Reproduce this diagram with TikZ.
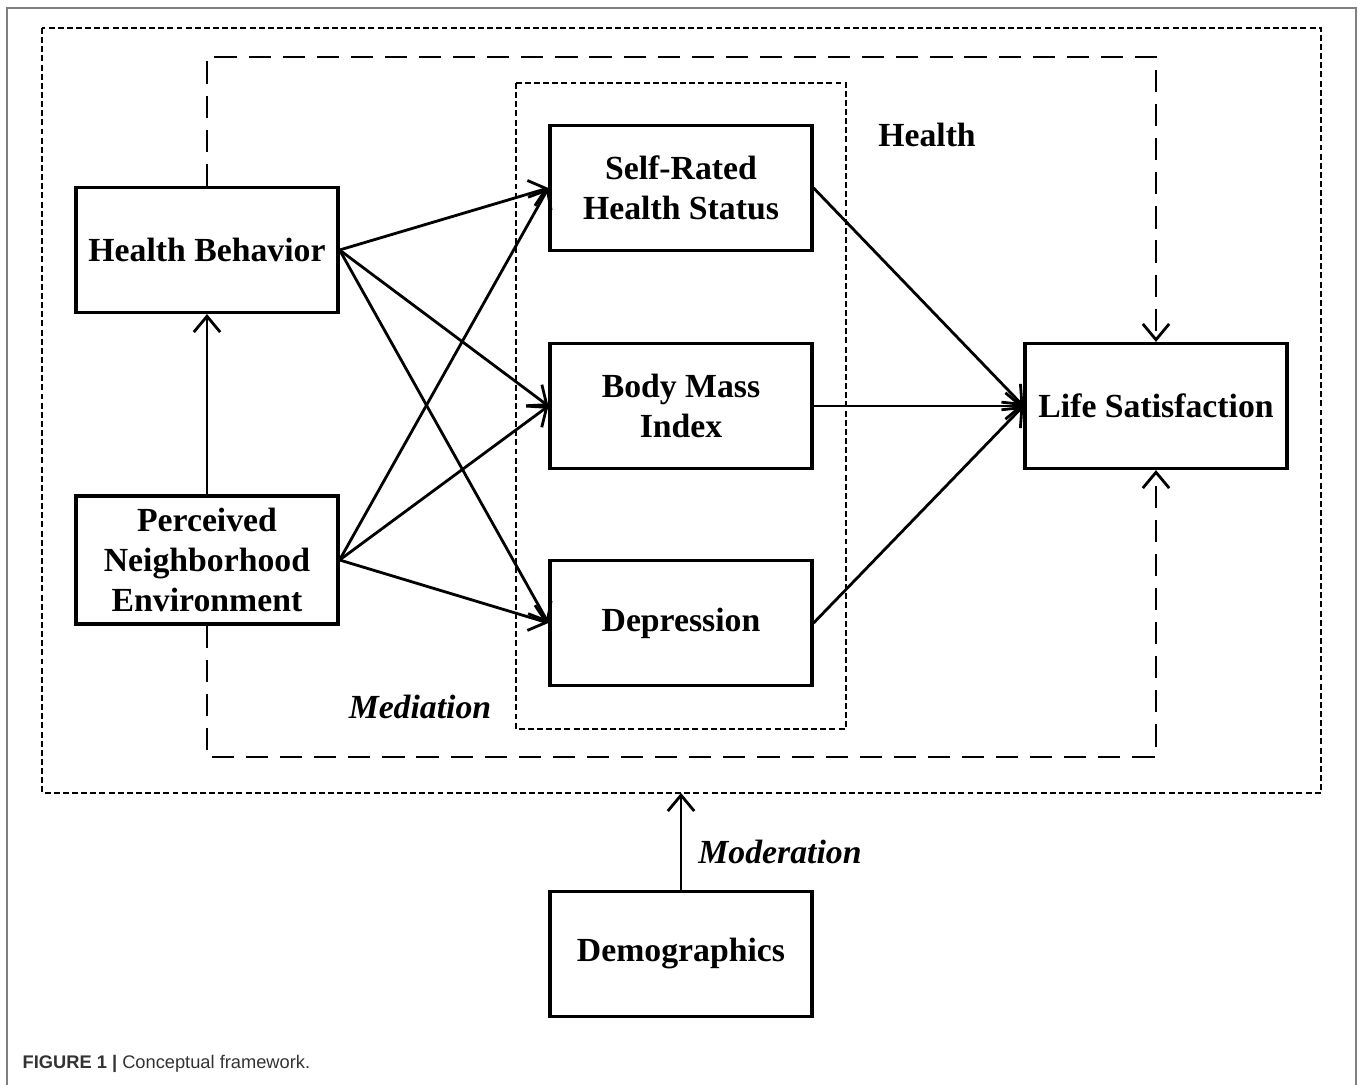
\documentclass[tikz,border=0pt]{standalone}
\usepackage{fontspec}
\setmainfont{Liberation Serif}
\newfontfamily\capfont{Liberation Sans}
\usetikzlibrary{arrows.meta}

\begin{document}
\begin{tikzpicture}[
  x=0.1mm, y=-0.1mm,
  box/.style={draw,line width=0.9pt,minimum width=26.2mm,minimum height=12.5mm,align=center,font=\fontsize{9.6}{11.5}\selectfont\bfseries},
  arr/.style={line width=0.8pt,-{Straight Barb[length=4.5pt,width=7.5pt]}},
  longdash/.style={line width=0.8pt,dash pattern=on 6.3pt off 3.4pt},
  group/.style={line width=0.6pt,dash pattern=on 1.7pt off 0.9pt},
  tag/.style={font=\fontsize{9.6}{11.5}\selectfont\bfseries\itshape}
]
\useasboundingbox (0,0) rectangle (1358,1085);
\draw[gray,line width=0.6pt] (7,1085) -- (7,8) -- (1356,8) -- (1356,1085);

\node[box] (hb) at (207,250) {Health Behavior};
\node[box] (pne) at (207,560) {Perceived\\Neighborhood\\Environment};
\node[box] (srh) at (681,188) {Self-Rated\\Health Status};
\node[box] (bmi) at (681,406) {Body Mass\\Index};
\node[box] (dep) at (681,623) {Depression};
\node[box] (ls) at (1156,406) {Life Satisfaction};
\node[box] (demo) at (681,954) {Demographics};

\coordinate (fr-nw) at (42,28);
\coordinate (fr-se) at (1321,793);
\draw[group] (fr-nw) rectangle (fr-se);
\draw[group] (516,83) rectangle (846,729);

\node[font=\fontsize{9.6}{11.5}\selectfont\bfseries] (healthlbl) at (927,135) {Health};
\node[tag] (medlbl) at (420,707) {Mediation};
\node[tag] (modlbl) at (780,852) {Moderation};

\coordinate (top) at (0,57);
\coordinate (bot) at (0,757);
\draw[longdash,arr] (hb.north) -- (hb.north |- top) -| (ls.north);
\draw[longdash,arr] (pne.south) -- (pne.south |- bot) -| (ls.south);

\draw[arr] (pne) -- (hb);
\foreach \m in {srh,bmi,dep} {
  \draw[arr] (hb.east) -- (\m.west);
  \draw[arr] (pne.east) -- (\m.west);
  \draw[arr] (\m.east) -- (ls.west);
}
\draw[arr] (demo) -- (demo |- fr-se);

\node[anchor=west,inner sep=0pt,text=black!80,font=\capfont\fontsize{5.2}{6}\selectfont] (cap) at (22,1064) {\textbf{FIGURE 1 |} Conceptual framework.};
\end{tikzpicture}
\end{document}
